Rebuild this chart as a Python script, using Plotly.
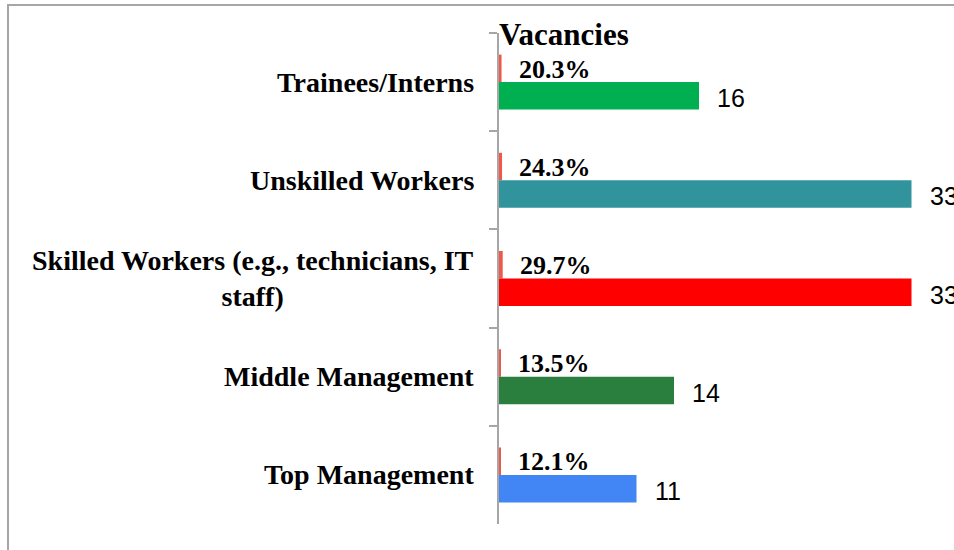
import plotly.graph_objects as go

categories = [
    "Trainees/Interns",
    "Unskilled Workers",
    "Skilled Workers (e.g., technicians, IT<br>staff)",
    "Middle Management",
    "Top Management",
]
vacancies = [16, 33, 33, 14, 11]
shares = [0.203, 0.243, 0.297, 0.135, 0.121]
share_labels = ["20.3%", "24.3%", "29.7%", "13.5%", "12.1%"]
bar_colors = ["#00B050", "#31939B", "#FF0000", "#2A7E3E", "#4285F4"]
share_color = "#F0584A"

SERIF = "Liberation Serif"
SANS = "Liberation Sans"

fig = go.Figure()
fig.add_trace(go.Bar(
    y=categories, x=shares, orientation="h",
    marker=dict(color=share_color, line=dict(width=0)),
    name="Share", showlegend=False, hoverinfo="skip",
))
fig.add_trace(go.Bar(
    y=categories, x=vacancies, orientation="h",
    marker=dict(color=bar_colors, line=dict(width=0)),
    name="Vacancies", showlegend=False, hoverinfo="skip",
))

annotations = []
for cat, s, lab, v in zip(categories, shares, share_labels, vacancies):
    annotations.append(dict(
        x=s, y=cat, xref="x", yref="y", text=lab, showarrow=False,
        xanchor="left", yanchor="middle", xshift=15, yshift=13,
        font=dict(family=SERIF, size=26, color="#000000", weight="bold"),
    ))
    annotations.append(dict(
        x=v, y=cat, xref="x", yref="y", text=str(v), showarrow=False,
        xanchor="left", yanchor="middle", xshift=16, yshift=-16,
        font=dict(family=SANS, size=25, color="#000000"),
    ))
    annotations.append(dict(
        x=0, y=cat, xref="paper", yref="y", text=cat, showarrow=False,
        xanchor="right", yanchor="middle", xshift=-23, align="center",
        font=dict(family=SERIF, size=28, color="#000000", weight="bold"),
    ))
annotations.append(dict(
    x=0, y=1, xref="paper", yref="paper", text="Vacancies", showarrow=False,
    xanchor="left", yanchor="middle", yshift=-1, xshift=-2,
    font=dict(family=SERIF, size=31, color="#000000", weight="bold"),
))

fig.update_layout(
    width=954, height=550,
    margin=dict(l=499, r=0, t=33, b=26, pad=0),
    paper_bgcolor="#FFFFFF", plot_bgcolor="#FFFFFF",
    barmode="group", bargap=0.44, bargroupgap=0,
    annotations=annotations,
    shapes=[dict(
        type="rect", xref="paper", yref="paper",
        x0=(8 - 499) / 455, x1=(1000 - 499) / 455,
        y0=(524 - 600) / 491, y1=(524 - 5) / 491,
        line=dict(color="#A6A6A6", width=2), fillcolor="rgba(0,0,0,0)",
        layer="below",
    )],
    xaxis=dict(range=[0, 36.4], visible=False, showgrid=False, zeroline=False),
    yaxis=dict(
        type="category", range=[4.5, -0.5], showticklabels=False,
        tickson="boundaries", ticks="outside", ticklen=8, tickwidth=1.5,
        tickcolor="#A6A6A6", showline=True, linecolor="#A6A6A6", linewidth=1.5,
        showgrid=False, zeroline=False,
    ),
)

fig.write_html(
    "out.html",
    config={"displayModeBar": False},
    post_script="document.body.style.margin='0';document.body.style.overflow='hidden';",
)
